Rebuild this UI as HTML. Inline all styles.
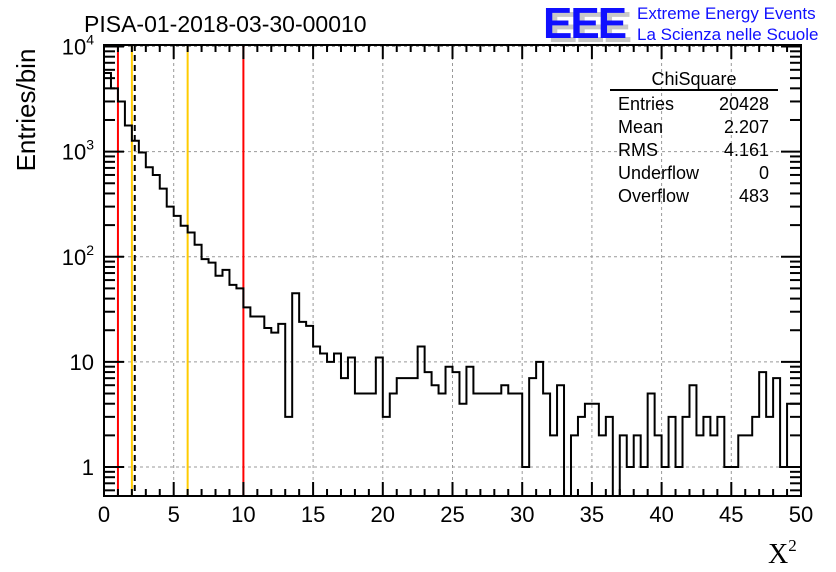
<!DOCTYPE html>
<html><head><meta charset="utf-8"><style>
html,body{margin:0;padding:0;background:#fff;}
svg{display:block;font-family:"Liberation Sans",sans-serif;}
</style></head><body>
<svg id="c" width="836" height="572" viewBox="0 0 836 572">
  <text x="84" y="32" font-size="23">PISA-01-2018-03-30-00010</text>
  <g>
    <text x="548" y="42" font-size="44" font-weight="bold" fill="#c8c8c8" letter-spacing="-2">EEE</text>
    <text x="543" y="38" font-size="44" font-weight="bold" fill="#1010ff" letter-spacing="-2">EEE</text>
    <text x="637" y="19" font-size="17" fill="#1010ff">Extreme Energy Events</text>
    <text x="637" y="40" font-size="17" fill="#1010ff">La Scienza nelle Scuole</text>
  </g>
  <g id="grid"></g>
  <g id="vlines"></g>
  <path id="hist" fill="none" stroke="#000" stroke-width="2"/>
  <rect x="104" y="45" width="697" height="451" fill="none" stroke="#000" stroke-width="2"/>
  <g id="ticks"></g>
  <g id="labels" font-size="22"></g>
  <text x="35" y="110" font-size="26" transform="rotate(-90 35 110)" text-anchor="middle">Entries/bin</text>
  <text x="768" y="563" font-size="28" font-family="Liberation Serif, serif">X<tspan font-size="17" dy="-12">2</tspan></text>
  <g font-size="18">
    <text x="694" y="85" text-anchor="middle">ChiSquare</text>
    <line x1="610" y1="90" x2="778" y2="90" stroke="#000" stroke-width="2"/>
    <text x="618" y="110">Entries</text><text x="769" y="110" text-anchor="end">20428</text>
    <text x="618" y="133">Mean</text><text x="769" y="133" text-anchor="end">2.207</text>
    <text x="618" y="156">RMS</text><text x="769" y="156" text-anchor="end">4.161</text>
    <text x="618" y="179">Underflow</text><text x="769" y="179" text-anchor="end">0</text>
    <text x="618" y="202">Overflow</text><text x="769" y="202" text-anchor="end">483</text>
  </g>
</svg>
<script>
const binCounts = [5600,4000,3000,1770,1270,980,710,600,445,300,245,197,170,130,95,88,66,75,54,50,33,27,27,21,19,23,3,45,24,22,14,12,10,12,7,11,5,5,5,11,3,5,7,7,7,14,8,6,5,9,8,4,9,5,5,5,5,6,5,5,1,7,10,5,2,6,0,2,3,4,4,2,3,0,2,1,2,1,5,2,1,3,1,3,6,2,3,2,3,1,1,2,2,3,8,3,7,1,4,4];
const xTickLabels = [0,5,10,15,20,25,30,35,40,45,50];
const yDecades = [0,1,2,3,4];
const yDecadeLabels = ["1","10","10²","10³","10⁴"];
const refLinesX = [1,2,6,10];
const refLineColors = ["#ff0000","#ffcc00","#ffcc00","#ff0000"];
const meanValue = [2.207];

const NS="http://www.w3.org/2000/svg";
const X0=104,X1=801,Y0=45,Y1=496,XMIN=0,XMAX=50,BW=0.5;
const YLMIN=Math.log10(0.53),YLMAX=Math.log10(10000)+1.5/105;
function sx(v){return X0+(v-XMIN)/(XMAX-XMIN)*(X1-X0);}
function sy(v){if(v<=0)return Y1;const l=Math.log10(v);let y=Y1-(l-YLMIN)/(YLMAX-YLMIN)*(Y1-Y0);return Math.max(Y0,Math.min(Y1,y));}
function mk(tag,attrs,parent){const e=document.createElementNS(NS,tag);for(const k in attrs)e.setAttribute(k,attrs[k]);parent.appendChild(e);return e;}

const grid=document.getElementById('grid');
xTickLabels.forEach(v=>{if(v>XMIN&&v<XMAX){const l=mk('line',{x1:sx(v),x2:sx(v),y1:Y0,y2:Y1,stroke:'#999','stroke-dasharray':'3,3'},grid);

}});
yDecades.forEach(d=>{const y=sy(Math.pow(10,d));const l=mk('line',{x1:X0,x2:X1,y1:y,y2:y,stroke:'#999','stroke-dasharray':'3,3'},grid);

});

const vl=document.getElementById('vlines');
refLinesX.forEach((v,i)=>{const l=mk('line',{x1:sx(v),x2:sx(v),y1:Y0,y2:Y1,stroke:refLineColors[i],'stroke-width':2},vl);

});
meanValue.forEach(v=>{const l=mk('line',{x1:sx(v),x2:sx(v),y1:Y0,y2:Y1,stroke:'#000','stroke-width':2,'stroke-dasharray':'6,4'},vl);

});

let d='M'+sx(0)+','+Y1;
binCounts.forEach((c,i)=>{const y=sy(c);d+=' L'+sx(i*BW)+','+y+' L'+sx((i+1)*BW)+','+y;});
d+=' L'+sx(binCounts.length*BW)+','+Y1;
document.getElementById('hist').setAttribute('d',d);

const tk=document.getElementById('ticks');
for(let v=0;v<=50;v+=1){const L=(v%5===0)?14:7;const x=sx(v);
  mk('line',{x1:x,x2:x,y1:Y1,y2:Y1-L,stroke:'#000','stroke-width':2},tk);
  mk('line',{x1:x,x2:x,y1:Y0,y2:Y0+L,stroke:'#000','stroke-width':2},tk);}
for(let dd=-1;dd<=4;dd++){for(let m=1;m<=9;m++){const v=m*Math.pow(10,dd);if(v<0.53||v>10000)continue;const y=sy(v);const L=(m===1)?20:11;
  mk('line',{x1:X0,x2:X0+L,y1:y,y2:y,stroke:'#000','stroke-width':2},tk);
  mk('line',{x1:X1,x2:X1-L,y1:y,y2:y,stroke:'#000','stroke-width':2},tk);}}

const lb=document.getElementById('labels');
xTickLabels.forEach(v=>{const t=mk('text',{x:sx(v),y:522,'text-anchor':'middle'},lb);t.textContent=v;

});
yDecades.forEach((dd,i)=>{const y=sy(Math.pow(10,dd));let t;
  if(dd>=2){t=mk('text',{x:94,y:y+8,'text-anchor':'end'},lb);t.innerHTML='10<tspan font-size="14" dy="-10">'+dd+'</tspan>';}
  else{t=mk('text',{x:94,y:y+8,'text-anchor':'end'},lb);t.textContent=yDecadeLabels[i];}
  
  });
</script>
</body></html>
